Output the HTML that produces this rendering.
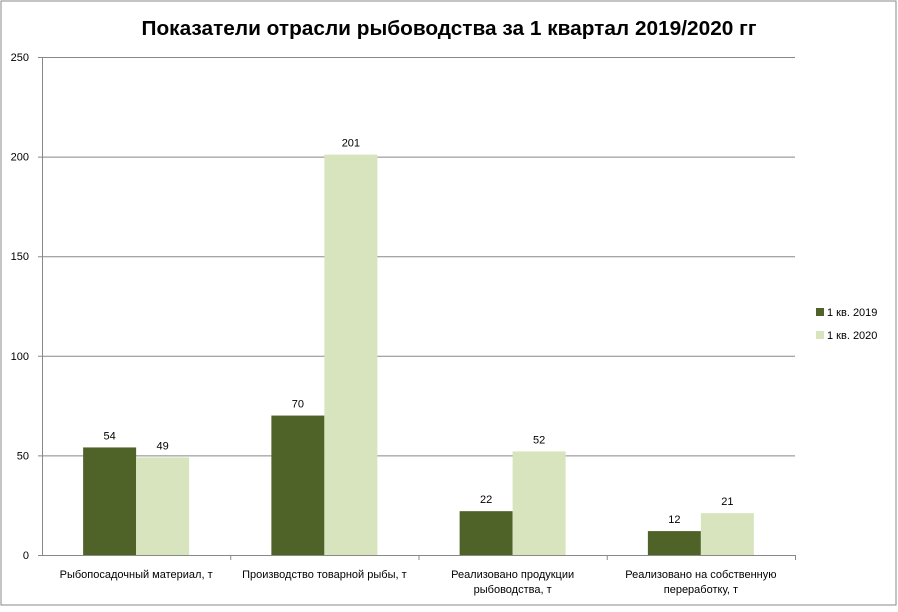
<!DOCTYPE html>
<html><head><meta charset="utf-8"><style>
body{margin:0;background:#fff;}
svg text{font-family:"Liberation Sans",sans-serif;}
</style></head><body>
<svg id="c" width="898" height="607" xmlns="http://www.w3.org/2000/svg">
<rect x="1" y="1" width="895" height="604" fill="#fff" stroke="#888"/>
<text x="449" y="35" text-anchor="middle" font-size="20.5" font-weight="bold" textLength="615" lengthAdjust="spacingAndGlyphs">Показатели отрасли рыбоводства за 1 квартал 2019/2020 гг</text>
<g id="plot"></g>
<g>
<rect x="816" y="308" width="8" height="8" fill="#4F6228"/>
<text x="827" y="316" font-size="11">1 кв. 2019</text>
<rect x="816" y="331" width="8" height="8" fill="#D7E4BD"/>
<text x="827" y="339" font-size="11">1 кв. 2020</text>
</g>
</svg>
<script>
const categories=[["Рыбопосадочный материал, т"],["Производство товарной  рыбы, т"],["Реализовано продукции","рыбоводства, т"],["Реализовано на собственную","переработку, т"]];
const s2019=[54,70,22,12];
const s2020=[49,201,52,21];
const yTicks=[0,50,100,150,200,250];
const NS="http://www.w3.org/2000/svg";
const g=document.getElementById('plot');
const x0=42,x1=795,yb=555,yt=57,ymax=250;
const y=v=>yb-(v/ymax)*(yb-yt);
const cw=(x1-x0)/categories.length;
function mk(t,a,txt){const e=document.createElementNS(NS,t);for(const k in a)e.setAttribute(k,a[k]);if(txt!==undefined)e.textContent=txt;g.appendChild(e);return e;}
yTicks.forEach(v=>{
 let l=mk('line',{x1:x0-4,x2:x1,y1:y(v)+.5,y2:y(v)+.5,stroke:'#888'});
 
 
 let t=mk('text',{x:x0-13,y:y(v)+4,'text-anchor':'end','font-size':'11'},v);
 
 
});
let ax=mk('line',{x1:x0+.5,x2:x0+.5,y1:yt,y2:yb,stroke:'#888'});


const bw=53;
categories.forEach((c,i)=>{
 const cx=x0+cw*(i+0.5);
 let tk=mk('line',{x1:x0+cw*(i+1)+.5,x2:x0+cw*(i+1)+.5,y1:yb,y2:yb+5,stroke:'#888'});
 
 
 [[s2019,'#4F6228',-bw],[s2020,'#D7E4BD',0]].forEach(([s,col,off],k)=>{
  const v=s[i];
  let r=mk('rect',{x:cx+off,y:y(v),width:bw,height:yb-y(v),fill:col});
  
  
  let t=mk('text',{x:cx+off+bw/2,y:y(v)-8,'text-anchor':'middle','font-size':'11'},v);
  
  
 });
 c.forEach((line,j)=>{
  let t=mk('text',{x:cx,y:578+j*15,'text-anchor':'middle','font-size':'11'},line);
  
  
 });
});
</script>
</body></html>
